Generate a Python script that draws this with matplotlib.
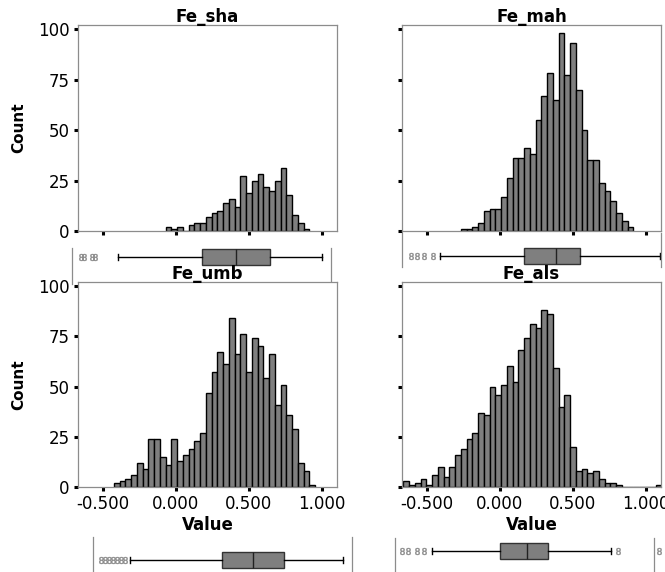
import numpy as np
import matplotlib.pyplot as plt

plt.rcParams['font.family'] = 'DejaVu Sans'

# common bin grid for all four histograms
BIN_START = -0.66
BIN_WIDTH = 0.0394

names = ["Fe_sha", "Fe_mah", "Fe_umb", "Fe_als"]
first_bin = [15, 10, 6, 0]

counts_sha = [2, 1, 2, 0, 3, 4, 4, 7, 9, 10, 14, 16, 12, 27, 19, 25, 28, 22, 20,
              25, 31, 18, 8, 4, 1]
counts_mah = [1, 1, 2, 4, 10, 11, 11, 17, 26, 36, 36, 41, 38, 55, 67, 78, 65, 98,
              77, 93, 70, 50, 35, 35, 24, 20, 15, 9, 5, 2]
counts_umb = [2, 3, 4, 6, 12, 9, 24, 24, 15, 11, 24, 13, 16, 19, 23, 27, 47, 57,
              67, 61, 84, 66, 76, 57, 74, 70, 54, 66, 41, 51, 36, 29, 12, 8, 1]
counts_als = [3, 1, 2, 4, 1, 6, 10, 5, 10, 16, 19, 24, 27, 37, 36, 50, 46, 51, 60,
              52, 68, 74, 81, 79, 88, 86, 59, 40, 46, 20, 8, 9, 7, 8, 4, 2, 2, 1,
              0, 0, 0, 0, 0, 0, 1]
all_counts = [counts_sha, counts_mah, counts_umb, counts_als]

# box plot summaries shown under each histogram
box_sha = dict(q1=0.221, med=0.454, q3=0.684, whislo=-0.355, whishi=1.044,
               fliers=[-0.61, -0.59, -0.53, -0.51])
box_mah = dict(q1=0.166, med=0.388, q3=0.548, whislo=-0.412, whishi=1.10,
               fliers=[-0.606, -0.567, -0.519, -0.458])
box_umb = dict(q1=0.217, med=0.427, q3=0.637, whislo=-0.418, whishi=1.044,
               fliers=[-0.617, -0.590, -0.562, -0.535, -0.507, -0.480, -0.453])
box_als = dict(q1=0.050, med=0.237, q3=0.377, whislo=-0.418, whishi=0.810,
               fliers=[-0.624, -0.579, -0.517, -0.469, 0.856, 1.141])
all_boxes = [box_sha, box_mah, box_umb, box_als]

y_ticks = [0, 25, 50, 75, 100]
x_ticks = [-0.5, 0.0, 0.5, 1.0]
x_tick_labels = ["-0.500", "0.000", "0.500", "1.000"]

XLIM = (-0.67, 1.105)
BAR_GRAY = '#7f7f7f'
FRAME_GRAY = '#8c8c8c'

W, H = 665, 572
fig = plt.figure(figsize=(W / 100, H / 100), dpi=100)


def px_axes(left, top, right, bottom):
    return fig.add_axes([left / W, 1 - bottom / H, (right - left) / W, (bottom - top) / H])


# (left, top, right, bottom) in pixels
hist_px = [(78, 25, 337, 231), (402, 25, 661, 231),
           (78, 282, 337, 487), (402, 282, 661, 487)]
# (left, top, right, bottom, box centre) in pixels
box_px = [(72, 248, 331, 284, 257), (402, 233, 661, 267, 256),
          (93, 537, 352, 572, 560), (395, 538, 654, 572, 551)]

for i, name in enumerate(names):
    left, top, right, bottom = hist_px[i]
    ax = px_axes(left, top, right, bottom)
    counts = all_counts[i]
    edges = BIN_START + (first_bin[i] + np.arange(len(counts))) * BIN_WIDTH
    ax.bar(edges, counts, width=BIN_WIDTH, align='edge', color=BAR_GRAY,
           edgecolor='black', linewidth=1.0)
    ax.set_xlim(*XLIM)
    ax.set_ylim(0, 102)
    ax.set_yticks(y_ticks)
    ax.set_xticks(x_ticks)
    for sp in ax.spines.values():
        sp.set_color(FRAME_GRAY)
        sp.set_linewidth(0.9)
    ax.tick_params(direction='out', length=3, width=2.2, color='black',
                   labelsize=12, pad=3)
    if i % 2 == 0:
        ax.set_yticklabels([str(t) for t in y_ticks])
        fig.text(19 / W, 1 - (top + bottom) / 2 / H, "Count", rotation=90,
                 ha='center', va='center', fontsize=11, fontweight='bold')
    else:
        ax.set_yticklabels([])
    if i >= 2:
        ax.set_xticklabels(x_tick_labels)
        fig.text((left + right) / 2 / W, 1 - 529.5 / H, "Value", ha='center',
                 va='baseline', fontsize=12, fontweight='bold')
    else:
        ax.set_xticklabels([])
    fig.text((left + right) / 2 / W, 1 - (top - 2.7) / H, name, ha='center',
             va='baseline', fontsize=12, fontweight='bold', zorder=5)

    # box plot strip below the histogram
    bl, bt, br, bb, bc = box_px[i]
    bax = px_axes(bl, bt, br, bb)
    bax.patch.set_visible(False)
    stats = dict(all_boxes[i])
    bax.bxp([stats], positions=[bc], widths=16, capwidths=6,
            orientation='horizontal', patch_artist=True,
            boxprops=dict(facecolor=BAR_GRAY, edgecolor='#333333', linewidth=1.0),
            medianprops=dict(color='#222222', linewidth=1.0),
            whiskerprops=dict(color='black', linewidth=1.0),
            capprops=dict(color='black', linewidth=1.0),
            flierprops=dict(marker='$8$', markersize=5, markeredgewidth=0.3,
                            markerfacecolor='#8a8a8a', markeredgecolor='#8a8a8a'))
    for art in bax.lines:
        art.set_clip_on(False)
    bax.set_xlim(*XLIM)
    bax.set_ylim(bb, bt)
    bax.set_xticks([])
    bax.set_yticks([])
    bax.spines['top'].set_visible(False)
    bax.spines['bottom'].set_visible(False)
    for side in ('left', 'right'):
        bax.spines[side].set_color(FRAME_GRAY)
        bax.spines[side].set_linewidth(0.9)

fig.savefig('out.png', dpi=100)
